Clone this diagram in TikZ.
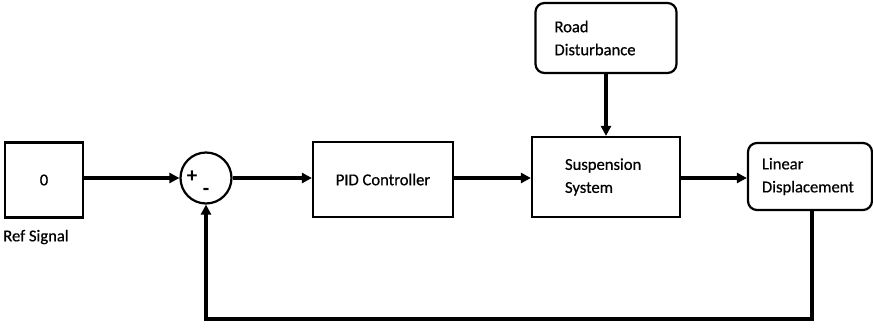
\documentclass[tikz,border=0pt]{standalone}
\usepackage{fontspec}
\setmainfont{Carlito}
\newfontfamily\lblfont[FakeBold=0.6]{Carlito}
\usetikzlibrary{arrows.meta, positioning}

\begin{document}
\begin{tikzpicture}[x=1pt, y=-1pt,
  font=\lblfont\fontsize{16.6}{23}\selectfont,
  blk/.style={draw, line width=2.2pt, inner sep=0pt, align=center},
  tblk/.style={blk, align=left, inner ysep=0pt},
  rblk/.style={tblk, rounded corners=9pt},
  sig/.style={-{Triangle[length=10pt, width=10pt]}, line width=3.4pt},
  sumc/.style={draw, circle, line width=2.2pt, minimum size=51pt, inner sep=0pt},
  sgn/.style={font=\fontsize{21}{21}\selectfont\bfseries, inner sep=0pt}
]
  \useasboundingbox (0,0) rectangle (873,327);

  % blocks of the loop
  \node[blk, minimum width=78pt, minimum height=75pt] (ref) at (44,180) {0};
  \node (reflbl) at (36,237) {Ref Signal};
  \node[sumc] (sum) at (206,178) {};
  \node[sgn] (plus) at (192,177) {+};
  \node[sgn] (minus) at (206,192) {-};
  \node[blk, minimum width=140pt, minimum height=75pt] (pid) at (383,179.5) {PID Controller};
  \node[tblk, inner xsep=33pt, text width=82pt, minimum height=80pt] (susp) at (606,177) {Suspension\\System};
  \node[rblk, inner xsep=19pt, text width=103pt, minimum height=70pt] (road) at (606,38) {Road\\Disturbance};
  \node[rblk, inner xsep=14pt, text width=96pt, minimum height=67pt] (lin) at (810,176.5) {Linear\\Displacement};
  \coordinate (fb) at (812,319);

  % signal flow
  \draw[sig] (ref.east |- sum.west) -- (sum.west);
  \draw[sig] (sum.east) -- (sum.east -| pid.west);
  \draw[sig] (pid.east |- sum.east) -- (sum.east -| susp.west);
  \draw[sig] (susp.east |- sum.east) -- (lin.west |- sum.east);
  \draw[sig] (road.south) -- (susp.north);
  \draw[sig] (lin.south -| fb) -- (fb) -| (sum.south);
\end{tikzpicture}
\end{document}
